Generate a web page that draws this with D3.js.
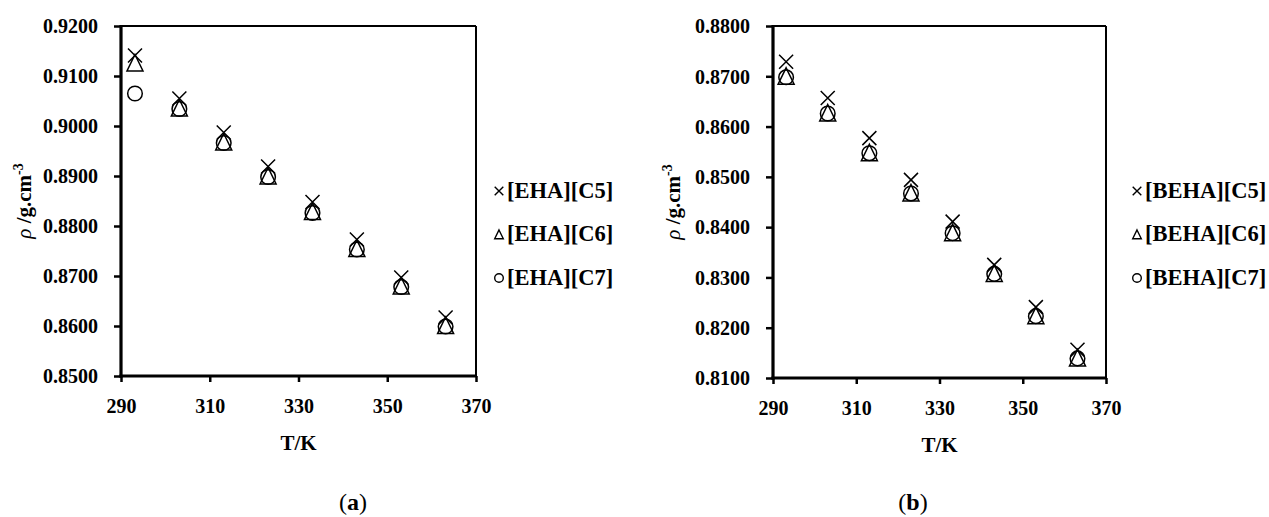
<!DOCTYPE html>
<html>
<head>
<meta charset="utf-8">
<script src="https://cdn.jsdelivr.net/npm/d3@7"></script>
<style>
  html, body { margin: 0; padding: 0; background: #fff; }
  svg { display: block; }
  text { font-family: "Liberation Serif", "Times New Roman", serif; fill: #000; }
</style>
</head>
<body>
<svg id="chart" width="1269" height="517"></svg>
<script>
// Temperatures (K) shared by both panels
const temperatures = [293.15, 303.15, 313.15, 323.15, 333.15, 343.15, 353.15, 363.15];

// Panel (a): densities of the [EHA] salts, g/cm3
const ehaC5 = [0.9141, 0.9055, 0.8987, 0.8919, 0.8848, 0.8773, 0.8697, 0.8617];
const ehaC6 = [0.9126, 0.9036, 0.8968, 0.8900, 0.8829, 0.8755, 0.8680, 0.8601];
const ehaC7 = [0.9065, 0.9034, 0.8966, 0.8898, 0.8826, 0.8753, 0.8678, 0.8599];
const ehaNames = ["[EHA][C5]", "[EHA][C6]", "[EHA][C7]"];

// Panel (b): densities of the [BEHA] salts, g/cm3
const behaC5 = [0.8729, 0.8657, 0.8577, 0.8494, 0.8411, 0.8325, 0.8241, 0.8156];
const behaC6 = [0.8700, 0.8627, 0.8548, 0.8468, 0.8389, 0.8308, 0.8224, 0.8140];
const behaC7 = [0.8698, 0.8626, 0.8547, 0.8467, 0.8388, 0.8307, 0.8223, 0.8139];
const behaNames = ["[BEHA][C5]", "[BEHA][C6]", "[BEHA][C7]"];

// Axis ticks
const tempTicks = [290, 310, 330, 350, 370];
const ehaTicks = [0.85, 0.86, 0.87, 0.88, 0.89, 0.90, 0.91, 0.92];
const behaTicks = [0.81, 0.82, 0.83, 0.84, 0.85, 0.86, 0.87, 0.88];
const captions = ["a", "b"];

const svg = d3.select("#chart");
const fmt = d3.format(".4f");

// Marker outlines, drawn around the point centre
const markerPaths = {
  cross: s => `M${-s},${-s}L${s},${s}M${-s},${s}L${s},${-s}`,
  triangle: s => `M0,${-s * 1.06}L${s},${s}L${-s},${s}Z`,
  circle: s => `M${s},0A${s},${s} 0 1,1 ${-s},0A${s},${s} 0 1,1 ${s},0Z`
};
const shapes = ["cross", "triangle", "circle"];

function drawPanel(cfg) {
  const g = svg.append("g");
  const x = d3.scaleLinear().domain([290, 370]).range([cfg.left, cfg.right]);
  const y = d3.scaleLinear().domain(d3.extent(cfg.yTicks)).range([cfg.bottom, cfg.top]);

  // thin frame on top and right
  g.append("line").attr("x1", cfg.left).attr("x2", cfg.right)
    .attr("y1", cfg.top).attr("y2", cfg.top)
    .attr("stroke", "#000").attr("stroke-width", 2);
  g.append("line").attr("x1", cfg.right).attr("x2", cfg.right)
    .attr("y1", cfg.top).attr("y2", cfg.bottom)
    .attr("stroke", "#000").attr("stroke-width", 2);

  // y axis
  const ya = g.append("g").attr("transform", `translate(${cfg.left},0)`)
    .call(d3.axisLeft(y).tickValues(cfg.yTicks).tickFormat(fmt)
      .tickSizeInner(7).tickSizeOuter(0).tickPadding(16));
  // x axis
  const xa = g.append("g").attr("transform", `translate(0,${cfg.bottom})`)
    .call(d3.axisBottom(x).tickValues(tempTicks).tickFormat(d3.format("d"))
      .tickSizeInner(6).tickSizeOuter(0).tickPadding(17));
  [ya, xa].forEach(a => {
    a.select(".domain").attr("stroke-width", 3.2).attr("stroke", "#000");
    a.selectAll(".tick line").attr("stroke-width", 2.5).attr("stroke", "#000");
    a.selectAll(".tick text").style("font-family", "'Liberation Serif', serif")
      .style("font-weight", "bold").style("font-size", "20px");
  });
  ya.selectAll(".tick text").attr("dy", "0.34em");
  ya.select(".domain").attr("d", `M0,${cfg.bottom + 1.6}V${cfg.top - 1}`);
  xa.select(".domain").attr("d", `M${cfg.left - 1.6},0H${cfg.right + 1}`);

  // data markers
  cfg.series.forEach((vals, i) => {
    g.append("g").selectAll("path").data(vals).join("path")
      .attr("transform", (d, j) => `translate(${x(temperatures[j])},${y(d)})`)
      .attr("d", markerPaths[shapes[i]](i === 0 ? 7 : (i === 1 ? 8 : 7.3)))
      .attr("fill", "none").attr("stroke", "#000").attr("stroke-width", 1.5);
  });

  // axis titles
  const yl = g.append("text")
    .attr("transform", `translate(${cfg.ylabelX},${(cfg.top + cfg.bottom) / 2}) rotate(-90)`)
    .attr("text-anchor", "middle").style("font-size", "21px");
  yl.append("tspan").text("ρ").style("font-style", "italic");
  yl.append("tspan").text(" /g.cm").style("font-weight", "bold");
  yl.append("tspan").text("-3").attr("dy", "-0.55em").style("font-size", "14px").style("font-weight", "bold");

  g.append("text").attr("x", (cfg.left + cfg.right) / 2).attr("y", cfg.bottom + 74)
    .attr("text-anchor", "middle").style("font-weight", "bold").style("font-size", "21px")
    .text("T/K");

  // legend
  const lg = g.append("g").attr("transform", `translate(${cfg.legendX},0)`);
  cfg.names.forEach((name, i) => {
    const cy = 191 + i * 43.5;
    lg.append("path").attr("transform", `translate(0,${cy})`)
      .attr("d", markerPaths[shapes[i]](4.3))
      .attr("fill", "none").attr("stroke", "#000").attr("stroke-width", 1.4);
    lg.append("text").attr("x", 8).attr("y", cy + 6.5)
      .style("font-weight", "bold").style("font-size", "22.5px").text(name);
  });

  // panel caption
  const cap = g.append("text").attr("x", cfg.captionX).attr("y", 510)
    .attr("text-anchor", "middle").style("font-size", "24px");
  cap.append("tspan").text("(");
  cap.append("tspan").text(cfg.caption).style("font-weight", "bold");
  cap.append("tspan").text(")");
}

drawPanel({
  left: 121, right: 476, top: 26, bottom: 376,
  yTicks: ehaTicks, series: [ehaC5, ehaC6, ehaC7], names: ehaNames,
  ylabelX: 31, legendX: 499, captionX: 353, caption: captions[0]
});
drawPanel({
  left: 773, right: 1106, top: 26, bottom: 378,
  yTicks: behaTicks, series: [behaC5, behaC6, behaC7], names: behaNames,
  ylabelX: 680, legendX: 1137, captionX: 913, caption: captions[1]
});
</script>
</body>
</html>
